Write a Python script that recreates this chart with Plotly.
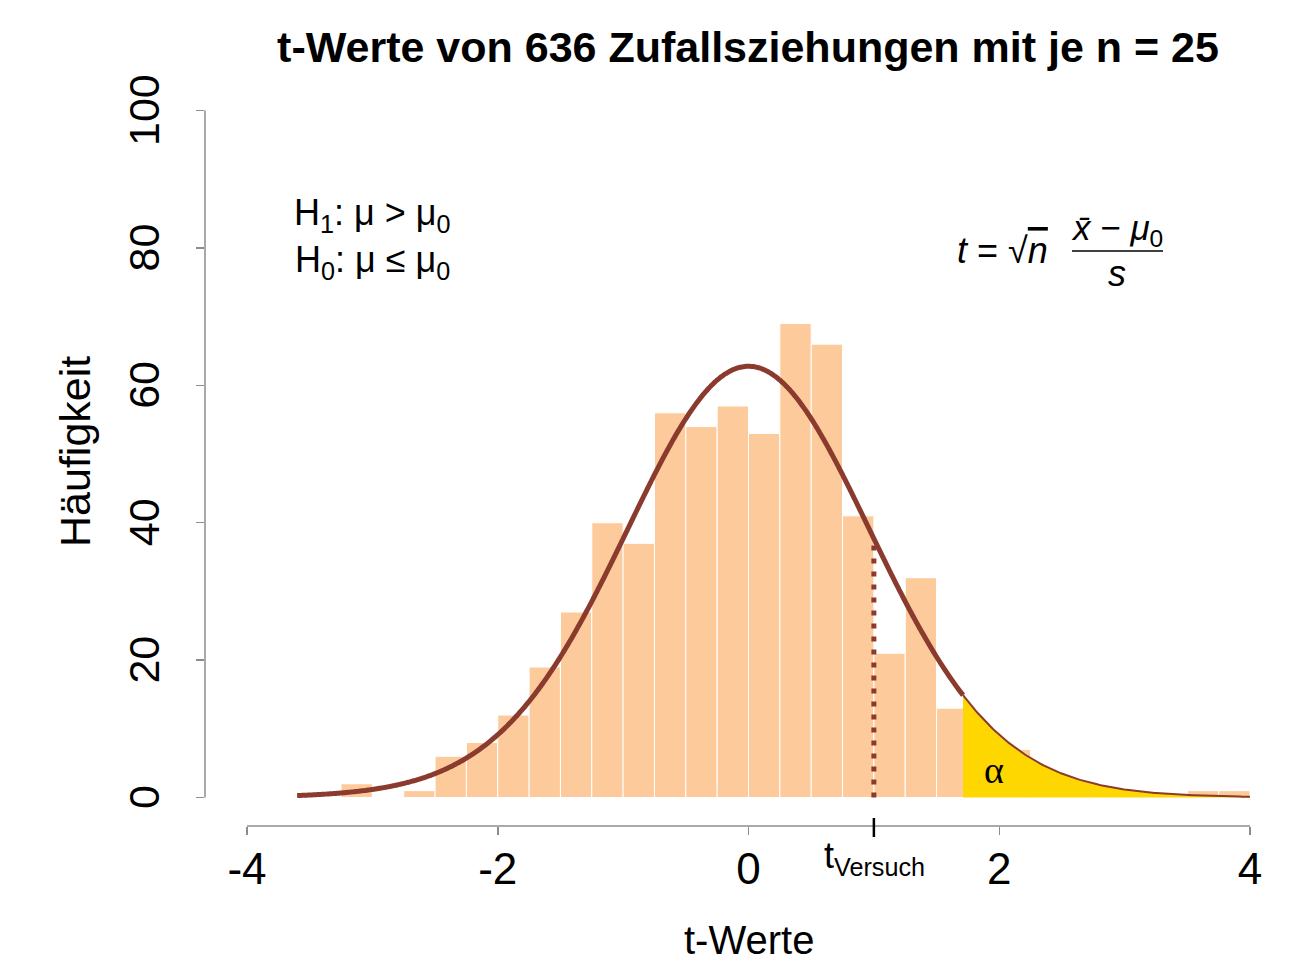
import math
import plotly.graph_objects as go

# ---------------- data ----------------
bin_width = 0.25
bin_left = [-3.25 + i * bin_width for i in range(29)]
counts = [2, 0, 1, 6, 8, 12, 19, 27, 40, 37, 56, 54, 57, 53, 69, 66, 41, 21, 32, 13,
          8, 7, 3, 1, 1, 0, 0, 1, 1]
n_draws = 636
n_sample = 25
df = n_sample - 1
t_crit = 1.711          # one-sided 5% critical value, df = 24
t_versuch = 1.0
curve_from, curve_to = -3.6, 4.0
x_ticks = [-4, -2, 0, 2, 4]
y_ticks = [0, 20, 40, 60, 80, 100]

# t density (df = 24) scaled to the histogram counts
logc = math.lgamma((df + 1) / 2) - math.lgamma(df / 2) - 0.5 * math.log(df * math.pi)


def t_count(x):
    return n_draws * bin_width * math.exp(logc) * (1 + x * x / df) ** (-(df + 1) / 2)


N = 600
cx = [curve_from + (curve_to - curve_from) * i / N for i in range(N + 1)]
left_x = [v for v in cx if v <= t_crit] + [t_crit]
left_y = [t_count(v) for v in left_x]
tail_x = [t_crit] + [v for v in cx if v > t_crit]
tail_y = [t_count(v) for v in tail_x]

# ---------------- style ----------------
BAR = "#FDCB9B"
CURVE = "#8B3A2E"
GOLD = "#FFD700"
AXIS = "#8c8c8c"
FONT = "Liberation Sans, Arial, sans-serif"

W, H = 1299, 961
L, R, T, B = 205, 24, 80, 135
px_per_x = 125.375
px_per_y = 6.869
x0_px, y0_px = 748.5, 797.5
x_range = [(L - x0_px) / px_per_x, (W - R - x0_px) / px_per_x]
y_range = [-(H - B - y0_px) / px_per_y, (y0_px - T) / px_per_y]


def pxx(p):
    return (p - L) / (W - L - R)


def pxy(p):
    return (H - B - p) / (H - T - B)


fig = go.Figure()

fig.add_trace(go.Bar(
    x=[b + bin_width / 2 for b in bin_left], y=counts, width=bin_width,
    marker=dict(color=BAR, line=dict(color="#ffffff", width=1)),
    hoverinfo="skip", showlegend=False))

# alpha region
fig.add_trace(go.Scatter(
    x=tail_x + [tail_x[-1], t_crit], y=tail_y + [0, 0],
    fill="toself", fillcolor=GOLD, mode="lines",
    line=dict(color=GOLD, width=0), hoverinfo="skip", showlegend=False))
fig.add_trace(go.Scatter(
    x=tail_x, y=tail_y, mode="lines",
    line=dict(color=CURVE, width=2), hoverinfo="skip", showlegend=False))

# main curve
fig.add_trace(go.Scatter(
    x=left_x, y=left_y, mode="lines",
    line=dict(color=CURVE, width=5, shape="spline"), hoverinfo="skip", showlegend=False))

# t_Versuch dotted line
fig.add_trace(go.Scatter(
    x=[t_versuch, t_versuch], y=[0, t_count(t_versuch)], mode="lines",
    line=dict(color=CURVE, width=5, dash="5px,8px"), hoverinfo="skip", showlegend=False))

shapes = [
    dict(type="line", xref="x domain", yref="y", x0=0, x1=0, y0=0, y1=100,
         line=dict(color=AXIS, width=1.5)),
    dict(type="line", xref="x", yref="y domain", x0=-4, x1=4, y0=0, y1=0,
         line=dict(color=AXIS, width=1.5)),
    dict(type="line", xref="x", yref="paper", x0=t_versuch, x1=t_versuch,
         y0=pxy(818), y1=pxy(837), line=dict(color="black", width=2.5)),
    dict(type="line", xref="paper", yref="paper",
         x0=pxx(1072), x1=pxx(1163), y0=pxy(251), y1=pxy(251),
         line=dict(color="black", width=1.5)),
]

ann = [
    dict(text="H<sub>1</sub>: μ > μ<sub>0</sub>", x=pxx(372), y=pxy(215),
         font=dict(size=36)),
    dict(text="H<sub>0</sub>: μ ≤ μ<sub>0</sub>", x=pxx(372), y=pxy(262),
         font=dict(size=36)),
    dict(text="<i>t</i> = √<span style='text-decoration:overline'><i>n</i></span>",
         x=pxx(1002), y=pxy(250), font=dict(size=36)),
    dict(text="<i>x̄</i> − <i>μ</i><sub>0</sub>", x=pxx(1117), y=pxy(230),
         font=dict(size=35)),
    dict(text="<i>s</i>", x=pxx(1117), y=pxy(273), font=dict(size=36)),
    dict(text="α", x=pxx(994), y=pxy(770),
         font=dict(size=38, family="Liberation Serif, DejaVu Serif, serif")),
    dict(text="t<sub>Versuch</sub>", x=pxx(874), y=pxy(858), font=dict(size=36)),
    dict(text="Häufigkeit", x=pxx(75), y=pxy(452), textangle=-90,
         font=dict(size=43)),
    dict(text="t-Werte", x=pxx(749), y=pxy(940), font=dict(size=40)),
]
for a in ann:
    a.update(xref="paper", yref="paper", showarrow=False,
             xanchor="center", yanchor="middle")
    a["font"].setdefault("family", FONT)
    a["font"].setdefault("color", "black")

fig.update_layout(
    width=W, height=H,
    margin=dict(l=L, r=R, t=T, b=B, autoexpand=False),
    paper_bgcolor="white", plot_bgcolor="white",
    bargap=0,
    title=dict(text="<b>t-Werte von 636 Zufallsziehungen mit je n = 25</b>",
               x=748 / W, xanchor="center", y=1 - 47 / H, yanchor="middle",
               xref="container", yref="container",
               font=dict(family=FONT, size=43, color="black")),
    shapes=shapes, annotations=ann,
    xaxis=dict(range=x_range, tickvals=x_ticks, ticktext=[str(v) for v in x_ticks],
               showgrid=False, zeroline=False, showline=False,
               ticks="outside", ticklen=8, tickcolor=AXIS, tickwidth=1.5,
               tickfont=dict(family=FONT, size=44, color="black"),
               ticklabelstandoff=-4, fixedrange=True, automargin=False),
    yaxis=dict(range=y_range, tickvals=y_ticks, ticktext=[str(v) for v in y_ticks],
               showgrid=False, zeroline=False, showline=False,
               ticks="outside", ticklen=8, tickcolor=AXIS, tickwidth=1.5,
               tickangle=-90,
               tickfont=dict(family=FONT, size=43, color="black"),
               ticklabelstandoff=20, ticklabelshift=6,
               fixedrange=True, automargin=False),
)

fig.write_html("out.html", config={"displayModeBar": False, "staticPlot": True},
               post_script="document.body.style.margin='0';document.body.style.overflow='hidden';")
